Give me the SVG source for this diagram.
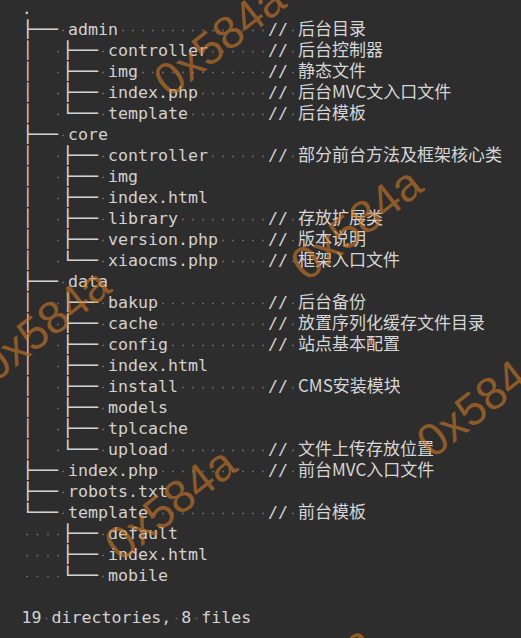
<svg xmlns="http://www.w3.org/2000/svg" width="521" height="638" viewBox="0 0 521 638">
<style>
.m{font-family:"DejaVu Sans Mono","Liberation Mono",monospace;font-size:16.6px;fill:#d2d2d2}
.c{font-family:"Noto Sans CJK SC","Noto Sans",sans-serif;font-size:17px;fill:#d6d6d6}
.ws{fill:none;stroke:#626262;stroke-width:2.2;stroke-linecap:round;stroke-dasharray:0 10}
.wm{font-family:"Liberation Sans",Arial,sans-serif;font-size:46px;fill:#d07a26;fill-opacity:.6;text-anchor:middle}
</style>
<defs>
<text id="T" class="m" textLength="36" lengthAdjust="spacingAndGlyphs">├──</text>
<text id="L" class="m" textLength="36" lengthAdjust="spacingAndGlyphs">└──</text>
</defs>
<rect width="521" height="638" fill="#2d2d2d"/>

<g id="whitespace">
<path class="ws" d="M63 30.5h1M123 30.5H263.5M293 30.5h1"/>
<path class="ws" d="M58 51.5h1M103 51.5h1M213 51.5H263.5M293 51.5h1"/>
<path class="ws" d="M58 72.5h1M103 72.5h1M143 72.5H263.5M293 72.5h1"/>
<path class="ws" d="M58 93.5h1M103 93.5h1M203 93.5H263.5M293 93.5h1"/>
<path class="ws" d="M58 114.5h1M103 114.5h1M193 114.5H263.5M293 114.5h1"/>
<path class="ws" d="M63 135.5h1"/>
<path class="ws" d="M58 156.5h1M103 156.5h1M213 156.5H263.5M293 156.5h1"/>
<path class="ws" d="M58 177.5h1M103 177.5h1"/>
<path class="ws" d="M58 198.5h1M103 198.5h1"/>
<path class="ws" d="M58 219.5h1M103 219.5h1M183 219.5H263.5M293 219.5h1"/>
<path class="ws" d="M58 240.5h1M103 240.5h1M223 240.5H263.5M293 240.5h1"/>
<path class="ws" d="M58 261.5h1M103 261.5h1M223 261.5H263.5M293 261.5h1"/>
<path class="ws" d="M63 282.5h1"/>
<path class="ws" d="M58 303.5h1M103 303.5h1M163 303.5H263.5M293 303.5h1"/>
<path class="ws" d="M58 324.5h1M103 324.5h1M163 324.5H263.5M293 324.5h1"/>
<path class="ws" d="M58 345.5h1M103 345.5h1M173 345.5H263.5M293 345.5h1"/>
<path class="ws" d="M58 366.5h1M103 366.5h1"/>
<path class="ws" d="M58 387.5h1M103 387.5h1M183 387.5H263.5M293 387.5h1"/>
<path class="ws" d="M58 408.5h1M103 408.5h1"/>
<path class="ws" d="M58 429.5h1M103 429.5h1"/>
<path class="ws" d="M58 450.5h1M103 450.5h1M173 450.5H263.5M293 450.5h1"/>
<path class="ws" d="M63 471.5h1M163 471.5H263.5M293 471.5h1"/>
<path class="ws" d="M63 492.5h1"/>
<path class="ws" d="M63 513.5h1M153 513.5H263.5M293 513.5h1"/>
<path class="ws" d="M27 534.5h1M37.5 534.5h1M48 534.5h1M58 534.5h1M103 534.5h1"/>
<path class="ws" d="M27 555.5h1M37.5 555.5h1M48 555.5h1M58 555.5h1M103 555.5h1"/>
<path class="ws" d="M27 576.5h1M37.5 576.5h1M48 576.5h1M58 576.5h1M103 576.5h1"/>
<path class="ws" d="M46.5 618.5h1M176.5 618.5h1M196.5 618.5h1"/>
</g>

<g id="connectors">
<use href="#T" x="22" y="34.5"/>
<text class="m" x="23" y="55.5">│</text><use href="#T" x="62" y="55.5"/>
<text class="m" x="23" y="76.5">│</text><use href="#T" x="62" y="76.5"/>
<text class="m" x="23" y="97.5">│</text><use href="#T" x="62" y="97.5"/>
<text class="m" x="23" y="118.5">│</text><use href="#L" x="62" y="118.5"/>
<use href="#T" x="22" y="139.5"/>
<text class="m" x="23" y="160.5">│</text><use href="#T" x="62" y="160.5"/>
<text class="m" x="23" y="181.5">│</text><use href="#T" x="62" y="181.5"/>
<text class="m" x="23" y="202.5">│</text><use href="#T" x="62" y="202.5"/>
<text class="m" x="23" y="223.5">│</text><use href="#T" x="62" y="223.5"/>
<text class="m" x="23" y="244.5">│</text><use href="#T" x="62" y="244.5"/>
<text class="m" x="23" y="265.5">│</text><use href="#L" x="62" y="265.5"/>
<use href="#T" x="22" y="286.5"/>
<text class="m" x="23" y="307.5">│</text><use href="#T" x="62" y="307.5"/>
<text class="m" x="23" y="328.5">│</text><use href="#T" x="62" y="328.5"/>
<text class="m" x="23" y="349.5">│</text><use href="#T" x="62" y="349.5"/>
<text class="m" x="23" y="370.5">│</text><use href="#T" x="62" y="370.5"/>
<text class="m" x="23" y="391.5">│</text><use href="#T" x="62" y="391.5"/>
<text class="m" x="23" y="412.5">│</text><use href="#T" x="62" y="412.5"/>
<text class="m" x="23" y="433.5">│</text><use href="#T" x="62" y="433.5"/>
<text class="m" x="23" y="454.5">│</text><use href="#L" x="62" y="454.5"/>
<use href="#T" x="22" y="475.5"/>
<use href="#T" x="22" y="496.5"/>
<use href="#L" x="22" y="517.5"/>
<use href="#T" x="62" y="538.5"/>
<use href="#T" x="62" y="559.5"/>
<use href="#L" x="62" y="580.5"/>
</g>

<g id="root"><text class="m" x="21.7" y="13.5">.</text></g>

<g id="admin"><text class="m" x="68" y="34.5">admin</text><text class="m" x="268" y="34.5">//</text><text class="c" x="298" y="34.5">后台目录</text></g>
<g id="admin-controller"><text class="m" x="108" y="55.5">controller</text><text class="m" x="268" y="55.5">//</text><text class="c" x="298" y="55.5">后台控制器</text></g>
<g id="admin-img"><text class="m" x="108" y="76.5">img</text><text class="m" x="268" y="76.5">//</text><text class="c" x="298" y="76.5">静态文件</text></g>
<g id="admin-index"><text class="m" x="108" y="97.5">index.php</text><text class="m" x="268" y="97.5">//</text><text class="c" x="298" y="97.5">后台MVC文入口文件</text></g>
<g id="admin-template"><text class="m" x="108" y="118.5">template</text><text class="m" x="268" y="118.5">//</text><text class="c" x="298" y="118.5">后台模板</text></g>

<g id="core"><text class="m" x="68" y="139.5">core</text></g>
<g id="core-controller"><text class="m" x="108" y="160.5">controller</text><text class="m" x="268" y="160.5">//</text><text class="c" x="298" y="160.5">部分前台方法及框架核心类</text></g>
<g id="core-img"><text class="m" x="108" y="181.5">img</text></g>
<g id="core-index"><text class="m" x="108" y="202.5">index.html</text></g>
<g id="core-library"><text class="m" x="108" y="223.5">library</text><text class="m" x="268" y="223.5">//</text><text class="c" x="298" y="223.5">存放扩展类</text></g>
<g id="core-version"><text class="m" x="108" y="244.5">version.php</text><text class="m" x="268" y="244.5">//</text><text class="c" x="298" y="244.5">版本说明</text></g>
<g id="core-xiaocms"><text class="m" x="108" y="265.5">xiaocms.php</text><text class="m" x="268" y="265.5">//</text><text class="c" x="298" y="265.5">框架入口文件</text></g>

<g id="data"><text class="m" x="68" y="286.5">data</text></g>
<g id="data-bakup"><text class="m" x="108" y="307.5">bakup</text><text class="m" x="268" y="307.5">//</text><text class="c" x="298" y="307.5">后台备份</text></g>
<g id="data-cache"><text class="m" x="108" y="328.5">cache</text><text class="m" x="268" y="328.5">//</text><text class="c" x="298" y="328.5">放置序列化缓存文件目录</text></g>
<g id="data-config"><text class="m" x="108" y="349.5">config</text><text class="m" x="268" y="349.5">//</text><text class="c" x="298" y="349.5">站点基本配置</text></g>
<g id="data-index"><text class="m" x="108" y="370.5">index.html</text></g>
<g id="data-install"><text class="m" x="108" y="391.5">install</text><text class="m" x="268" y="391.5">//</text><text class="c" x="298" y="391.5">CMS安装模块</text></g>
<g id="data-models"><text class="m" x="108" y="412.5">models</text></g>
<g id="data-tplcache"><text class="m" x="108" y="433.5">tplcache</text></g>
<g id="data-upload"><text class="m" x="108" y="454.5">upload</text><text class="m" x="268" y="454.5">//</text><text class="c" x="298" y="454.5">文件上传存放位置</text></g>

<g id="index-php"><text class="m" x="68" y="475.5">index.php</text><text class="m" x="268" y="475.5">//</text><text class="c" x="298" y="475.5">前台MVC入口文件</text></g>
<g id="robots"><text class="m" x="68" y="496.5">robots.txt</text></g>
<g id="template"><text class="m" x="68" y="517.5">template</text><text class="m" x="268" y="517.5">//</text><text class="c" x="298" y="517.5">前台模板</text></g>
<g id="template-default"><text class="m" x="108" y="538.5">default</text></g>
<g id="template-index"><text class="m" x="108" y="559.5">index.html</text></g>
<g id="template-mobile"><text class="m" x="108" y="580.5">mobile</text></g>

<g id="summary"><text class="m" x="21.5" y="622.5" xml:space="preserve">19 directories, 8 files</text></g>

<g id="watermark">
<text class="wm" transform="translate(229 52) rotate(-38)">0x584a</text>
<text class="wm" transform="translate(366 236) rotate(-38)">0x584a</text>
<text class="wm" transform="translate(54 337) rotate(-38)">0x584a</text>
<text class="wm" transform="translate(492 413) rotate(-38)">0x584a</text>
<text class="wm" transform="translate(180 516) rotate(-38)">0x584a</text>
<text class="wm" transform="translate(541 -49) rotate(-38)">0x584a</text>
<text class="wm" transform="translate(317 694) rotate(-38)">0x584a</text>
</g>
</svg>
